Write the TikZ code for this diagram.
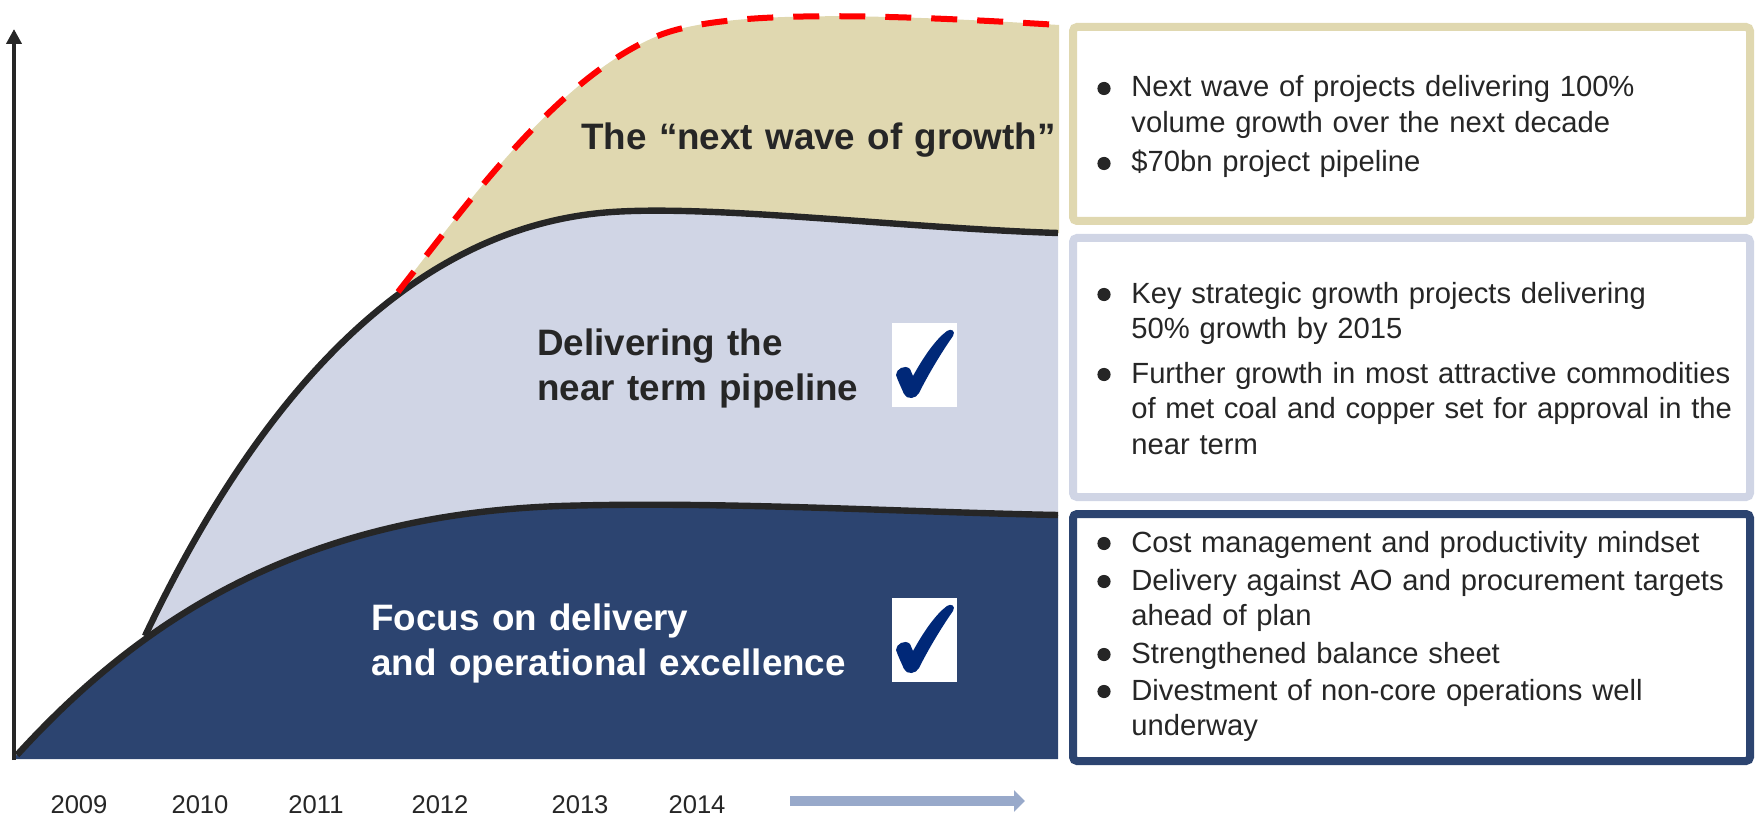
\documentclass[tikz,border=0pt]{standalone}
\usepackage{fontspec}
\setmainfont{Liberation Sans}
\usetikzlibrary{arrows.meta,calc}

\definecolor{ink}{HTML}{262626}
\definecolor{navy}{HTML}{2C4470}
\definecolor{mist}{HTML}{D0D5E5}
\definecolor{sand}{HTML}{E0D8B0}
\definecolor{tickblue}{HTML}{002878}
\definecolor{steel}{HTML}{98A9CA}
\definecolor{alarm}{HTML}{FF0000}

\tikzset{
  curve/.style={draw=ink, line width=3.2pt},
  forecast/.style={draw=alarm, line width=3pt, dash pattern=on 13pt off 10pt},
  phase/.style={font=\fontsize{18.4}{22.5}\selectfont\bfseries, text=ink,
    anchor=base west, inner sep=0pt, align=left, text width=260pt},
  yearlbl/.style={font=\fontsize{12.8}{15}\selectfont, text=ink, anchor=base, inner sep=0pt},
  item/.style={font=\fontsize{14.6}{17.75}\selectfont, text=ink,
    anchor=base west, inner sep=0pt, align=left, text width=320pt},
  panel/.style={line width=4pt, fill=white, rounded corners=2pt, anchor=north west,
    minimum width=338.5pt, inner sep=0pt, outer sep=0pt},
  tickmark/.pic={
    \fill[white] (0,0) rectangle (65,84);
    \fill[tickblue] (4,52) .. controls (4,46) and (13,41) .. (18,46)
      -- (21,53) .. controls (32,33) and (44,16) .. (55,8)
      .. controls (59,5) and (64,8) .. (61,13)
      .. controls (49,30) and (36,52) .. (27,70)
      .. controls (24,76) and (15,77) .. (12,71)
      .. controls (9,64) and (6,58) .. (4,52) -- cycle;
  }
}

% the three band edges, shared by fills and outlines
\def\lowerband{(17,755) .. controls (140,620) and (300,515) .. (560,506)
  .. controls (720,501) and (900,512) .. (1058,515)}
\def\middleband{(145,636) .. controls (275,362) and (430,230) .. (600,213)
  .. controls (700,203) and (900,228) .. (1058,233)}
\def\upperband{(398,292) .. controls (470,200) and (560,75) .. (660,35)
  .. controls (720,12) and (850,12) .. (1059,25)}

\begin{document}
\begin{tikzpicture}[x=0.5pt, y=-0.5pt]
\useasboundingbox (0,0) rectangle (1755,818);

% bands of the growth chart
\fill[sand] \upperband -- (1059,233) -- cycle;
\fill[mist] \middleband -- (1058,600) -- cycle;
\fill[navy] (14,759) -- (14,756) -- \lowerband -- (1058,759) -- cycle;

% band outlines
\draw[curve] \middleband;
\draw[curve] \lowerband;
\draw[forecast] \upperband;

% vertical axis
\coordinate (axis-base) at (14,760);
\coordinate (axis-top) at (14,29);
\draw[ink, line width=2pt, -{Triangle[length=7.5pt,width=7.5pt]}] (axis-base) -- (axis-top);

% band titles
\node[phase] (lbl-next) at (581,150) {The “next wave of growth”};
\node[phase] (lbl-near) at (537,355) {Delivering the\\near term pipeline};
\node[phase, text=white] (lbl-focus) at (371,630) {Focus on delivery\\and operational excellence};

% ticks
\pic (tick-near) at (892,323) {tickmark};
\pic (tick-focus) at (892,598) {tickmark};

% years along the time axis
\node[yearlbl] (y2009) at (79,813) {2009};
\node[yearlbl] (y2010) at (200,813) {2010};
\node[yearlbl] (y2011) at (316,813) {2011};
\node[yearlbl] (y2012) at (440,813) {2012};
\node[yearlbl] (y2013) at (580,813) {2013};
\node[yearlbl] (y2014) at (697,813) {2014};
\coordinate (time-from) at (790,801);
\coordinate (time-to) at (1025,801);
\draw[steel, line width=5pt, -{Triangle[length=5.5pt,width=10.5pt]}] (time-from) -- (time-to);

% commentary panels
\node[panel, draw=sand, minimum height=97pt] (pnl-next) at (1073,27) {};
\node[panel, draw=mist, minimum height=129.5pt] (pnl-near) at (1073,238) {};
\node[panel, draw=navy, minimum height=123.5pt] (pnl-focus) at (1073,514) {};

\node[item] (n1) at (1131,97) {Next wave of projects delivering 100\%\\volume growth over the next decade};
\node[item] (n2) at (1131,172) {\$70bn project pipeline};
\node[item] (m1) at (1131,303) {Key strategic growth projects delivering\\50\% growth by 2015};
\node[item] (m2) at (1131,383) {Further growth in most attractive commodities\\of met coal and copper set for approval in the\\near term};
\node[item] (f1) at (1131,552) {Cost management and productivity mindset};
\node[item] (f2) at (1131,590) {Delivery against AO and procurement targets\\ahead of plan};
\node[item] (f3) at (1131,663) {Strengthened balance sheet};
\node[item] (f4) at (1131,700) {Divestment of non-core operations well\\underway};

\foreach \n in {n1,n2,m1,m2,f1,f2,f3,f4}
  \fill[ink] ($(\n.base west)+(-27,-8.5)$) circle[radius=3.3pt];
\end{tikzpicture}
\end{document}
